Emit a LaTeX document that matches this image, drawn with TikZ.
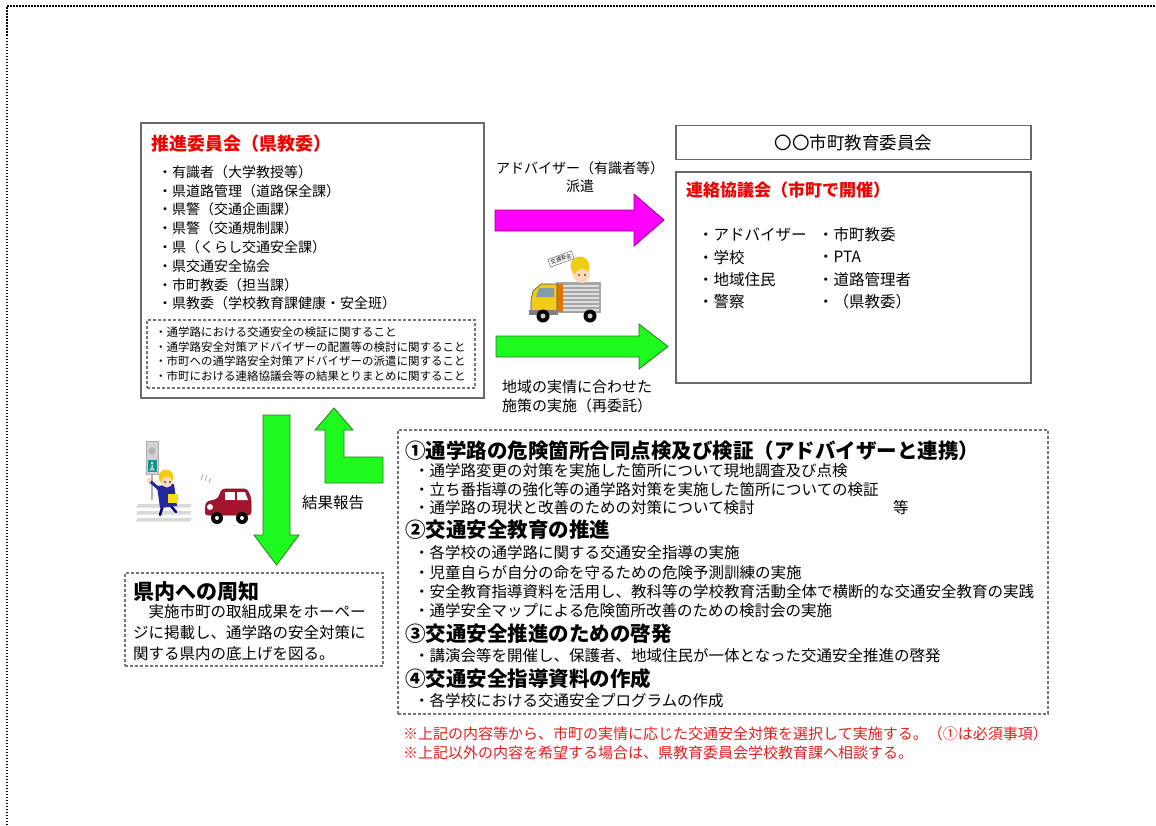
\documentclass[tikz,border=0pt]{standalone}
\usepackage{fontspec}
\setmainfont{Noto Sans CJK JP}
\usepackage{xcolor}
\usepackage{tikz}
\usetikzlibrary{positioning}

\definecolor{boxgray}{RGB}{105,105,105}
\definecolor{dashgray}{RGB}{115,115,115}
\definecolor{titlered}{RGB}{240,0,0}
\definecolor{notered}{RGB}{228,30,30}
\definecolor{dispatchpink}{RGB}{255,0,255}
\definecolor{pinkedge}{RGB}{140,0,140}
\definecolor{flowgreen}{RGB}{30,250,30}
\definecolor{greenedge}{RGB}{40,120,40}
\definecolor{carred}{RGB}{165,20,45}
\definecolor{skin}{RGB}{255,218,185}
\definecolor{cabyellow}{RGB}{240,205,20}
\definecolor{lampteal}{RGB}{20,150,140}

\newcommand{\jfs}[1]{\fontsize{#1}{#1}\selectfont}

\begin{document}
\begin{tikzpicture}[x=1pt, y=-1pt, inner sep=0pt]
    % Define styles
    \tikzstyle{panel} = [rectangle, draw=boxgray, line width=1.5pt]
    \tikzstyle{dashpanel} = [rectangle, draw=dashgray, line width=1.1pt, dash pattern=on 3pt off 2pt]
    \tikzstyle{txt} = [anchor=west, inner sep=0pt]
    \tikzstyle{head} = [txt, font=\jfs{20.5}\bfseries]
    \tikzstyle{bullet} = [txt, font=\jfs{15.5}]
    \tikzstyle{pinkarrow} = [fill=dispatchpink, draw=pinkedge, line width=0.8pt]
    \tikzstyle{greenarrow} = [fill=flowgreen, draw=greenedge, line width=0.8pt]

    \useasboundingbox (0,0) rectangle (1156,825);
    % page frame
    \draw[line width=1.2pt, dash pattern=on 1.5pt off 1.5pt] (7,825) -- (7,6) -- (1156,6);

    % Boxes
    \node[panel, minimum width=343pt, minimum height=275pt] (promo) at (312.5,260.5) {};
    \node[dashpanel, minimum width=328pt, minimum height=68pt] (duties) at (311,354) {};
    \node[panel, minimum width=355pt, minimum height=211pt] (council) at (853.5,277.5) {};
    \node[panel, minimum width=355pt, minimum height=34pt, above=11pt of council, font=\jfs{17.5}] (board) {〇〇市町教育委員会};
    \node[dashpanel, minimum width=258pt, minimum height=93pt] (notice) at (254,619.5) {};
    \node[dashpanel, minimum width=650pt, minimum height=284pt] (measures) at (723,572) {};

    % Promotion committee
    \node[txt, font=\jfs{18}\bfseries, text=titlered] (promotitle) at (151,144) {推進委員会（県教委）};
    \foreach \t [count=\i from 0] in {・有識者（大学教授等）, ・県道路管理（道路保全課）, ・県警（交通企画課）, ・県警（交通規制課）, ・県（くらし交通安全課）, ・県交通安全協会, ・市町教委（担当課）, ・県教委（学校教育課健康・安全班）}
        \node[txt, font=\jfs{14}] (mem\i) at (158,{172+18.8*\i}) {\t};
    \foreach \t [count=\i from 0] in {・通学路における交通安全の検証に関すること, ・通学路安全対策アドバイザーの配置等の検討に関すること, ・市町への通学路安全対策アドバイザーの派遣に関すること, ・市町における連絡協議会等の結果とりまとめに関すること}
        \node[txt, font=\jfs{11.5}] (duty\i) at (155,{332+14.8*\i}) {\t};

    % Liaison council
    \node[txt, font=\jfs{17}\bfseries, text=titlered] (counciltitle) at (686,190) {連絡協議会（市町で開催）};
    \foreach \t [count=\i from 0] in {・アドバイザー, ・学校, ・地域住民, ・警察}
        \node[txt, font=\jfs{15.5}] (left\i) at (698,{235+22.3*\i}) {\t};
    \foreach \t [count=\i from 0] in {・市町教委, ・PTA, ・道路管理者, ・（県教委）}
        \node[txt, font=\jfs{15.5}] (right\i) at (818,{235+22.3*\i}) {\t};

    % Arrows between the boards
    \draw[pinkarrow] (495,210) -- (634,210) -- (634,194) -- (664,220) -- (634,246) -- (634,231) -- (495,231) -- cycle;
    \draw[greenarrow] (496,336) -- (639,336) -- (639,324) -- (668,346.5) -- (639,369) -- (639,357) -- (496,357) -- cycle;
    \node[font=\jfs{14}] (dispatch) at (580,168) {アドバイザー（有識者等）};
    \node[font=\jfs{14}, below=5pt of dispatch] (dispatch2) {派遣};
    \node[font=\jfs{15}] (commission) at (577,387) {地域の実情に合わせた};
    \node[font=\jfs{15}, below=4pt of commission] (commission2) {施策の実施（再委託）};

    % Truck with the campaign sign
    \fill[gray!70] (556,282) rectangle (601,313);
    \foreach \yy in {286,290,...,310}
        \draw[gray!25, line width=1.5pt] (563,\yy) -- (599,\yy);
    \fill[orange!90!black] (556,284) rectangle (563,312);
    \fill[skin] (581,273) circle (9);
    \fill[cabyellow] (580,266) circle (9.5);
    \fill[skin] (582,276) circle (7);
    \fill[black] (579,275) circle (0.9) (585,275) circle (0.9);
    \node[draw=black!60, fill=white, rotate=20, font=\jfs{5.5}, inner sep=1.5pt, line width=0.5pt] (sign) at (561,259) {交通安全};
    \filldraw[fill=cabyellow, draw=black!70, line width=0.6pt] (531,300) -- (533,291) -- (541,284) -- (557,284) -- (557,313) -- (531,313) -- cycle;
    \fill[cyan!25!gray] (539,288) -- (554,288) -- (554,297) -- (536,297) -- cycle;
    \fill[gray] (529,310) rectangle (558,315);
    \foreach \xx in {543,590} {
        \fill[black] (\xx,316) circle (6.5);
        \fill[gray!40] (\xx,316) circle (2.5);
    }

    % Child at the crossing
    \draw[gray!60, line width=2pt] (152,474) -- (152,500);
    \filldraw[fill=gray!35, draw=gray!65, line width=0.6pt] (146,441) rectangle (158,474);
    \fill[gray!60] (152,451) circle (3.5);
    \fill[lampteal] (147.5,460) rectangle (156.5,472);
    \fill[white] (152,463) circle (1.2);
    \draw[white, line width=1pt] (152,464.5) -- (152,468) (150,470.5) -- (152,468) -- (154,470.5);
    \foreach \yy in {504,511,518}
        \fill[gray!30] (138,\yy) -- (192,\yy) -- (190,{\yy+3.5}) -- (136,{\yy+3.5}) -- cycle;
    \draw[blue!50!black, line width=2.5pt, line cap=round] (163,505) -- (160,515) (170,505) -- (176,512);
    \fill[blue!55!black!85] (157,486) -- (174,484) -- (177,506) -- (160,508) -- cycle;
    \draw[blue!55!black!85, line width=3pt, line cap=round] (159,489) -- (150,481);
    \fill[skin] (149,480) circle (2.5);
    \fill[yellow!80!orange] (168,494) rectangle (178,503);
    \fill[cabyellow] (166,477) circle (7.5);
    \fill[skin] (167,482) circle (5.5);
    \fill[black] (165,482) circle (0.8) (170,482) circle (0.8);
    \draw[gray!70, line width=0.8pt] (201,480) -- (203,474) (205,481) -- (207,475) (209,483) -- (211,478);

    % Red car
    \filldraw[fill=carred, draw=carred!70!black, line width=0.6pt, rounded corners=3pt] (205,515) -- (206,502) -- (218,499) -- (222,489) -- (247,489) -- (251,498) -- (251,515) -- cycle;
    \fill[white] (225,492) rectangle (235,500);
    \fill[white] (237,492) -- (245,492) -- (248,500) -- (237,500) -- cycle;
    \fill[white] (210,507) circle (3);
    \foreach \xx in {217,242} {
        \fill[black] (\xx,518) circle (6);
        \fill[white] (\xx,518) circle (2);
    }

    % Report flow
    \draw[greenarrow] (263,415) -- (290,415) -- (290,535) -- (299,535) -- (276.5,565) -- (254,535) -- (263,535) -- cycle;
    \draw[greenarrow] (334,408) -- (353,430) -- (344,430) -- (344,457) -- (383,457) -- (383,483) -- (325,483) -- (325,430) -- (315,430) -- cycle;
    \node[font=\jfs{15.5}] (report) at (333,503) {結果報告};

    % Notice within the prefecture
    \node[txt, font=\jfs{21}\bfseries] (noticetitle) at (133,592) {県内への周知};
    \foreach \t [count=\i from 0] in {　実施市町の取組成果をホーペー, ジに掲載し、通学路の安全対策に, 関する県内の底上げを図る。}
        \node[txt, font=\jfs{15.5}] (notice\i) at (133,{612+21*\i}) {\t};

    % Measures
    \node[head] (m1) at (405,451) {①通学路の危険箇所合同点検及び検証（アドバイザーと連携）};
    \foreach \t [count=\i from 0] in {・通学路変更の対策を実施した箇所について現地調査及び点検, ・立ち番指導の強化等の通学路対策を実施した箇所についての検証, ・通学路の現状と改善のための対策について検討}
        \node[bullet] (m1b\i) at (414,{471+18.5*\i}) {\t};
    \node[bullet] (m1etc) at (893,508) {等};
    \node[head] (m2) at (405,530) {②交通安全教育の推進};
    \foreach \t [count=\i from 0] in {・各学校の通学路に関する交通安全指導の実施, ・児童自らが自分の命を守るための危険予測訓練の実施, ・安全教育指導資料を活用し、教科等の学校教育活動全体で横断的な交通安全教育の実践, ・通学安全マップによる危険箇所改善のための検討会の実施}
        \node[bullet] (m2b\i) at (414,{553+19.3*\i}) {\t};
    \node[head] (m3) at (405,634) {③交通安全推進のための啓発};
    \node[bullet] (m3b) at (414,656) {・講演会等を開催し、保護者、地域住民が一体となった交通安全推進の啓発};
    \node[head] (m4) at (405,679) {④交通安全指導資料の作成};
    \node[bullet] (m4b) at (414,701) {・各学校における交通安全プログラムの作成};

    % Notes
    \node[txt, font=\jfs{15}, text=notered] (note1) at (403,734) {※上記の内容等から、市町の実情に応じた交通安全対策を選択して実施する。（①は必須事項）};
    \node[txt, font=\jfs{15}, text=notered] (note2) at (403,753) {※上記以外の内容を希望する場合は、県教育委員会学校教育課へ相談する。};
\end{tikzpicture}
\end{document}
